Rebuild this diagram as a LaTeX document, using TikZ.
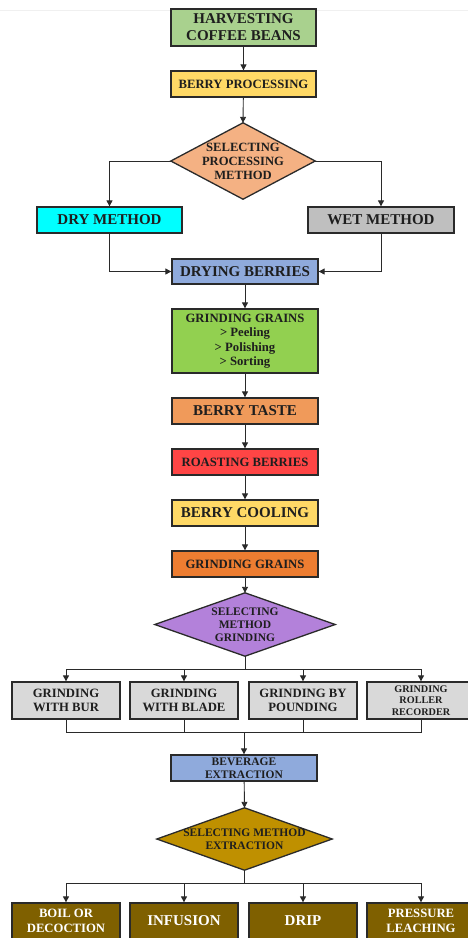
\documentclass[tikz,border=0pt]{standalone}
\usepackage{fontspec}
\setmainfont{Liberation Serif}
\usetikzlibrary{arrows.meta,backgrounds}
\definecolor{cGreenA}{HTML}{A9D18E}
\definecolor{cYellow}{HTML}{FFD966}
\definecolor{cPeach}{HTML}{F4B183}
\definecolor{cCyan}{HTML}{00FFFF}
\definecolor{cGray}{HTML}{BFBFBF}
\definecolor{cBlue}{HTML}{8FAADC}
\definecolor{cGreenB}{HTML}{92D050}
\definecolor{cTaste}{HTML}{F09A5A}
\definecolor{cRed}{HTML}{FF4545}
\definecolor{cOrange}{HTML}{ED7D31}
\definecolor{cPurple}{HTML}{B381DA}
\definecolor{cLightGray}{HTML}{D9D9D9}
\definecolor{cGold}{HTML}{BF9000}
\definecolor{cBrown}{HTML}{7F6000}
\definecolor{cInk}{HTML}{1E1E1E}
\definecolor{cLine}{HTML}{2A2A2A}
\tikzset{
  box/.style={rectangle, draw=cLine, line width=1.3pt, inner sep=0pt, align=center,
    text=cInk, font=\bfseries},
  diatext/.style={rectangle, draw=none, inner sep=0pt, align=center,
    text=cInk, font=\bfseries},
  diashape/.style={draw=cLine, line width=1.3pt, line join=miter},
  conn/.style={draw=cLine, line width=0.9pt},
  arr/.style={conn, -{Triangle[length=6pt,width=6pt]}},
  fA/.style={font=\bfseries\fontsize{15}{16}\selectfont},
  fB/.style={font=\bfseries\fontsize{12.7}{14.5}\selectfont},
  fC/.style={font=\bfseries\fontsize{11.5}{13}\selectfont},
  fD/.style={font=\bfseries\fontsize{10.2}{11.5}\selectfont},
}
\begin{document}
\begin{tikzpicture}[x=1pt,y=-1pt]
\useasboundingbox (0,0) rectangle (468,938);
\draw[gray!12, line width=0.6pt] (0,10) -- (468,10);

\node[box, fill=cGreenA, minimum width=145pt, minimum height=37pt, font=\bfseries\fontsize{15}{17}\selectfont] (harv) at (243.5,27.5) {HARVESTING\\COFFEE BEANS};
\node[box, fill=cYellow, minimum width=145pt, minimum height=26pt, fB] (berry) at (243.5,84) {BERRY PROCESSING};
\node[diatext, minimum width=144pt, minimum height=76pt, font=\bfseries\fontsize{12.6}{14}\selectfont] (dia1) at (243,161) {SELECTING\\PROCESSING\\METHOD};
\node[box, fill=cCyan, minimum width=145pt, minimum height=26pt, fA] (dry) at (109.5,220) {DRY METHOD};
\node[box, fill=cGray, minimum width=146pt, minimum height=26pt, fA] (wet) at (381,220) {WET METHOD};
\node[box, fill=cBlue, minimum width=146pt, minimum height=25pt, fA] (drying) at (245,271.5) {DRYING BERRIES};
\node[box, fill=cGreenB, minimum width=146pt, minimum height=64pt, fB] (gg1) at (245,341) {GRINDING GRAINS\\{>} Peeling\\{>} Polishing\\{>} Sorting};
\node[box, fill=cTaste, minimum width=146pt, minimum height=26pt, fA] (taste) at (245,411) {BERRY TASTE};
\node[box, fill=cRed, minimum width=146pt, minimum height=26pt, fB] (roast) at (245,462) {ROASTING BERRIES};
\node[box, fill=cYellow, minimum width=146pt, minimum height=26pt, fA] (cool) at (245,513) {BERRY COOLING};
\node[box, fill=cOrange, minimum width=146pt, minimum height=26pt, fB] (gg2) at (245,564) {GRINDING GRAINS};
\node[diatext, minimum width=180pt, minimum height=63pt, fC] (dia2) at (245,624.5) {SELECTING\\METHOD\\GRINDING};

\node[box, fill=cLightGray, minimum width=108pt, minimum height=37pt, fB] (g1) at (66,700.5) {GRINDING\\WITH BUR};
\node[box, fill=cLightGray, minimum width=108pt, minimum height=37pt, fB] (g2) at (184,700.5) {GRINDING\\WITH BLADE};
\node[box, fill=cLightGray, minimum width=108pt, minimum height=37pt, fB] (g3) at (303,700.5) {GRINDING BY\\POUNDING};
\node[box, fill=cLightGray, minimum width=108pt, minimum height=37pt, fD] (g4) at (421,700.5) {GRINDING\\ROLLER\\RECORDER};

\node[box, fill=cBlue, minimum width=146pt, minimum height=26pt, fC] (bev) at (244,768) {BEVERAGE\\EXTRACTION};
\node[diatext, minimum width=175pt, minimum height=62pt, fC] (dia3) at (244.5,839) {SELECTING METHOD\\EXTRACTION};

\node[box, fill=cBrown, text=white, minimum width=108pt, minimum height=36pt, fB] (e1) at (66,921) {BOIL OR\\DECOCTION};
\node[box, fill=cBrown, text=white, minimum width=108pt, minimum height=36pt, fA] (e2) at (184,921) {INFUSION};
\node[box, fill=cBrown, text=white, minimum width=108pt, minimum height=36pt, fA] (e3) at (303,921) {DRIP};
\node[box, fill=cBrown, text=white, minimum width=108pt, minimum height=36pt, fB] (e4) at (421,921) {PRESSURE\\LEACHING};

\begin{scope}[on background layer]
\draw[diashape, fill=cPeach] (dia1.north) -- (dia1.east) -- (dia1.south) -- (dia1.west) -- cycle;
\draw[diashape, fill=cPurple] (dia2.north) -- (dia2.east) -- (dia2.south) -- (dia2.west) -- cycle;
\draw[diashape, fill=cGold] (dia3.north) -- (dia3.east) -- (dia3.south) -- (dia3.west) -- cycle;
\end{scope}

\coordinate (b1) at (245,669);
\coordinate (b2) at (244,732);
\coordinate (b3) at (244.5,883);

\draw[arr] (harv) -- (berry);
\draw[arr] (berry) -- (dia1.north);
\draw[arr] (dia1.west) -| (dry.north);
\draw[arr] (dia1.east) -| (wet.north);
\draw[arr] (dry.south) |- (drying.west);
\draw[arr] (wet.south) |- (drying.east);
\draw[arr] (drying) -- (gg1);
\draw[arr] (gg1) -- (taste);
\draw[arr] (taste) -- (roast);
\draw[arr] (roast) -- (cool);
\draw[arr] (cool) -- (gg2);
\draw[arr] (gg2) -- (dia2.north);

\draw[conn] (dia2.south) -- (b1);
\foreach \g in {g1,g2,g3,g4} {\draw[arr] (b1) -| (\g.north);}
\foreach \g in {g1,g2,g3,g4} {\draw[conn] (\g.south) |- (b2);}
\draw[arr] (b2) -- (bev.north);
\draw[arr] (bev) -- (dia3.north);
\draw[conn] (dia3.south) -- (b3);
\foreach \e in {e1,e2,e3,e4} {\draw[arr] (b3) -| (\e.north);}
\end{tikzpicture}
\end{document}
